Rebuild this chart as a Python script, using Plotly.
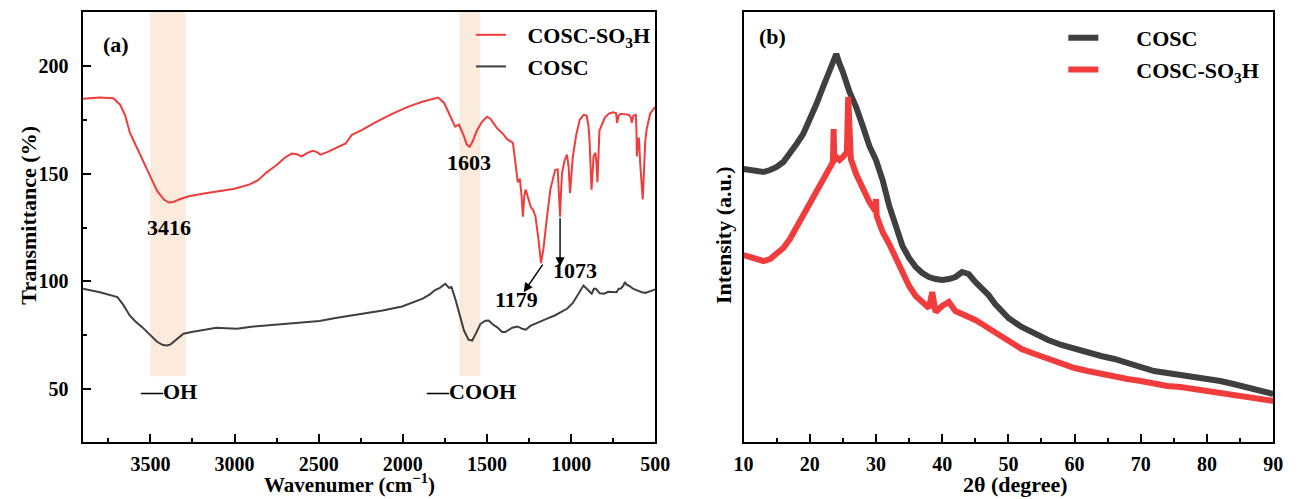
import plotly.graph_objects as go

# ---------------- data: FTIR (panel a) ----------------
ftir_red_x = [3900, 3800, 3720, 3680, 3650, 3622, 3580, 3540, 3500, 3460, 3420, 3390, 3365, 3330, 3278, 3200,
              3103, 3000, 2910, 2860, 2811, 2750, 2700, 2660, 2630, 2601, 2570, 2537, 2510, 2490, 2450, 2391,
              2340, 2303, 2250, 2169, 2070, 1971, 1880, 1790, 1755, 1720, 1690, 1667, 1640, 1620, 1603, 1585,
              1560, 1530, 1500, 1480, 1440, 1400, 1381, 1346, 1330, 1317, 1305, 1295, 1287, 1278, 1270, 1255,
              1241, 1225, 1212, 1195, 1179, 1165, 1150, 1142, 1124, 1108, 1095, 1080, 1073, 1066, 1060, 1054,
              1040, 1025, 1015, 1007, 998, 990, 970, 949, 925, 908, 897, 891, 879, 872, 867, 856, 850, 844,
              838, 832, 800, 774, 750, 733, 727, 718, 704, 680, 657, 645, 640, 630, 616, 612, 610, 605, 598,
              590, 580, 575, 568, 560, 552, 530, 500]
ftir_red_y = [184.7, 185.3, 185.0, 182.0, 177.0, 169.0, 162.0, 155.0, 148.6, 142.0, 138.0, 136.6, 136.8, 138.0,
              139.4, 140.6, 141.7, 143.0, 145.0, 147.0, 150.5, 154.0, 157.5, 159.3, 159.0, 158.0, 159.5, 160.6,
              160.0, 158.8, 160.0, 162.0, 164.0, 168.0, 170.0, 173.6, 177.5, 181.0, 183.5, 185.3, 182.8, 177.0,
              171.8, 172.7, 168.0, 163.5, 162.5, 165.0, 170.0, 174.0, 176.4, 175.5, 171.0, 168.0, 166.0, 164.3,
              155.0, 146.0, 147.7, 140.0, 130.0, 140.0, 142.6, 138.0, 134.7, 133.0, 130.0, 120.0, 108.5, 115.0,
              127.0, 131.0, 142.6, 147.0, 151.8, 152.0, 140.0, 130.0, 142.0, 150.5, 156.0, 158.8, 153.0, 141.0,
              150.0, 158.0, 168.0, 175.0, 177.3, 177.0, 172.0, 165.7, 142.6, 152.0, 158.0, 159.7, 155.0, 146.0,
              160.0, 170.0, 176.0, 178.0, 178.5, 178.0, 173.6, 177.0, 177.8, 177.5, 177.3, 176.0, 173.6, 177.0,
              177.3, 170.0, 158.0, 163.0, 166.7, 155.0, 142.0, 138.0, 150.0, 165.0, 170.4, 178.0, 181.0]

ftir_blk_x = [3900, 3800, 3696, 3660, 3623, 3590, 3549, 3500, 3460, 3426, 3400, 3380, 3340, 3304, 3255, 3180,
              3108, 3050, 2985, 2900, 2800, 2740, 2600, 2495, 2400, 2250, 2120, 2005, 1930, 1882, 1840, 1809,
              1780, 1748, 1725, 1711, 1686, 1660, 1637, 1610, 1588, 1565, 1539, 1510, 1490, 1465, 1441, 1410,
              1392, 1350, 1319, 1290, 1270, 1240, 1196, 1150, 1098, 1060, 1025, 990, 960, 927, 900, 878, 865,
              853, 830, 804, 780, 755, 730, 718, 706, 690, 681, 670, 657, 630, 608, 580, 559, 530, 510, 500]
ftir_blk_y = [96.6, 95.0, 92.7, 89.0, 84.2, 81.5, 78.8, 75.0, 72.0, 70.5, 70.3, 70.8, 73.5, 75.7, 76.5, 77.5,
              78.5, 78.3, 78.0, 79.0, 79.6, 80.0, 80.8, 81.6, 83.0, 84.7, 86.5, 88.4, 90.5, 92.0, 94.0, 96.0,
              97.0, 98.9, 97.0, 97.4, 91.2, 84.0, 77.2, 73.0, 72.6, 76.0, 80.3, 81.8, 81.9, 80.0, 78.8, 76.5,
              76.5, 78.5, 79.1, 78.0, 77.6, 79.5, 81.1, 82.5, 84.2, 86.0, 87.3, 90.0, 94.0, 98.1, 96.0, 94.3,
              96.6, 96.6, 94.5, 94.3, 95.2, 95.0, 95.0, 96.6, 96.6, 98.0, 99.7, 98.5, 98.0, 96.5, 95.8, 95.0,
              94.7, 95.5, 96.1, 96.3]

# ---------------- data: XRD (panel b), intensity in a.u. ----------------
xrd_blk_x = [10, 11, 12, 13, 14, 15, 16, 17, 18, 19, 20, 21, 22, 23, 23.5, 24, 24.5, 25, 26, 27, 28, 29, 30,
             30.5, 31, 32, 33, 34, 35, 36, 37, 38, 39, 40, 41, 42, 43, 44, 45, 46, 47, 48, 49, 50, 52, 54, 56,
             58, 60, 62, 64, 66, 68, 70, 72, 74, 76, 78, 80, 82, 84, 86, 88, 90]
xrd_blk_y = [273, 272, 270, 270, 272, 275, 280, 288, 298, 308, 322, 338, 355, 370, 380, 388, 378, 370, 350, 335,
             316, 296, 282, 273, 262, 236, 215, 196, 184, 175, 169, 165, 163, 162, 163, 165, 170, 168, 160, 154,
             147, 138, 130, 124, 115, 108, 102, 97, 93, 89, 86, 83, 79, 74, 71, 69, 67, 66, 64, 61, 58, 55, 52, 48]

xrd_red_x = [10, 11, 12, 13, 14, 15, 16, 17, 18, 19, 20, 21, 22, 23, 23.5, 23.6, 23.7, 24, 24.5, 25, 25.6, 25.8,
             26.0, 26.2, 27, 28, 29, 29.9, 30.0, 30.1, 31, 32, 33, 34, 35, 36, 37, 38, 38.5, 39, 40, 41, 42, 43,
             44, 45, 46, 47, 48, 50, 52, 54, 56, 58, 60, 62, 64, 66, 68, 70, 72, 74, 76, 78, 80, 82, 84, 86, 88, 90]
xrd_red_y = [187, 185, 183, 181, 183, 188, 194, 203, 215, 228, 241, 253, 265, 277, 280, 313, 281, 285, 282, 285,
             290, 345, 288, 283, 268, 254, 240, 231, 243, 226, 210, 198, 183, 170, 156, 146, 139, 134, 150, 130,
             136, 140, 131, 128, 126, 122, 118, 114, 110, 101, 93, 88, 83, 78, 74, 71, 68, 65, 63, 61, 58, 56,
             55, 53, 51, 49, 47, 45, 43, 41]

RED = "#F03C3C"
GRAY = "#3F3F3F"
FONT = "Liberation Serif"
NB = "\u00a0"

fig = go.Figure()
fig.add_trace(go.Scatter(x=ftir_red_x, y=ftir_red_y, mode="lines", name=NB * 3 + "<b>COSC-SO<sub>3</sub>H</b>",
                         line=dict(color=RED, width=2), xaxis="x", yaxis="y", legend="legend"))
fig.add_trace(go.Scatter(x=ftir_blk_x, y=ftir_blk_y, mode="lines", name=NB * 3 + "<b>COSC</b>",
                         line=dict(color=GRAY, width=2), xaxis="x", yaxis="y", legend="legend"))
fig.add_trace(go.Scatter(x=xrd_blk_x, y=xrd_blk_y, mode="lines", name=NB * 6 + "<b>COSC</b>",
                         line=dict(color=GRAY, width=6), xaxis="x2", yaxis="y2", legend="legend2"))
fig.add_trace(go.Scatter(x=xrd_red_x, y=xrd_red_y, mode="lines", name=NB * 6 + "<b>COSC-SO<sub>3</sub>H</b>",
                         line=dict(color=RED, width=6), xaxis="x2", yaxis="y2", legend="legend2"))

W, H = 1298, 499
ydom = [(H - 442) / H, (H - 12) / H]
tickfont = dict(family=FONT, size=20, color="black", weight="bold")
ann_font = dict(family=FONT, size=22, color="black", weight="bold")

axis_common = dict(showline=True, linecolor="black", linewidth=2, mirror=True, showgrid=False, zeroline=False,
                   ticks="inside", ticklen=8, tickwidth=2, tickcolor="black", tickfont=tickfont)
minor_common = dict(ticks="inside", ticklen=4, tickwidth=2, tickcolor="black")

fig.update_layout(
    width=W, height=H, margin=dict(l=0, r=0, t=0, b=0),
    paper_bgcolor="white", plot_bgcolor="white",
    xaxis=dict(domain=[74 / W, 658 / W], range=[3903, 500], anchor="y",
               tickvals=[3500, 3000, 2500, 2000, 1500, 1000, 500],
               minor=dict(dtick=250, tick0=500, **minor_common), ticklabelstandoff=3, **axis_common),
    yaxis=dict(domain=ydom, range=[25.5, 225], anchor="x", tickvals=[50, 100, 150, 200],
               minor=dict(dtick=25, tick0=0, **minor_common), ticklabelstandoff=8, **axis_common),
    xaxis2=dict(domain=[748 / W, 1288 / W], range=[10, 90], anchor="y2", dtick=10, tick0=10,
                minor=dict(dtick=5, **minor_common), ticklabelstandoff=3, **axis_common),
    yaxis2=dict(domain=ydom, range=[0, 430], anchor="x2", showline=True, linecolor="black", linewidth=2,
                mirror=True, showgrid=False, zeroline=False, showticklabels=False, ticks=""),
    legend=dict(x=470 / W, y=1 - 14 / H, xanchor="left", yanchor="top", bgcolor="rgba(0,0,0,0)",
                font=dict(family=FONT, size=22, color="black"), tracegroupgap=0, itemwidth=30),
    legend2=dict(x=1074 / W, y=1 - 17 / H, xanchor="left", yanchor="top", bgcolor="rgba(0,0,0,0)",
                 font=dict(family=FONT, size=22, color="black"), tracegroupgap=0, itemwidth=30),
    showlegend=True,
)

# axis titles
fig.add_annotation(text="<b>Wavenumer (cm<sup>\u22121</sup>)</b>", x=346 / W, y=0.5 / H, xref="paper",
                   yref="paper", showarrow=False, xanchor="center", yanchor="bottom",
                   font=dict(family=FONT, size=21, color="black", weight="bold"))
fig.add_annotation(text="<b>2\u03b8 (degree)</b>", x=1025 / W, y=0.5 / H, xref="paper", yref="paper",
                   showarrow=False, xanchor="center", yanchor="bottom", font=ann_font)
fig.add_annotation(text="<b>Transmittance (%)</b>", x=18 / W, y=1 - 215 / H, xref="paper", yref="paper",
                   showarrow=False, xanchor="center", yanchor="middle", textangle=-90, font=ann_font)
fig.add_annotation(text="<b>Intensity (a.u.)</b>", x=727 / W, y=1 - 235 / H, xref="paper", yref="paper",
                   showarrow=False, xanchor="center", yanchor="middle", textangle=-90, font=ann_font)

# shaded absorption bands
for x0, x1 in [(3500, 3290), (1665, 1540)]:
    fig.add_shape(type="rect", xref="x", yref="y", x0=x0, x1=x1, y0=56, y1=225,
                  fillcolor="rgba(248,222,196,0.6)", line=dict(width=0), layer="below")

texts = [("(a)", 3705, 209.7, "x", "y"), ("3416", 3391, 125, "x", "y"), ("1603", 1606, 155.1, "x", "y"),
         ("1179", 1322, 91.7, "x", "y"), ("1073", 979, 105.1, "x", "y"),
         ("\u2014OH", 3391, 49.1, "x", "y"), ("\u2014COOH", 1595, 49.1, "x", "y"),
         ("(b)", 14.4, 406, "x2", "y2")]
for t, x, y, xr, yr in texts:
    fig.add_annotation(text="<b>" + t + "</b>", x=x, y=y, xref=xr, yref=yr, showarrow=False, font=ann_font,
                       xanchor="center", yanchor="middle")

# arrows
fig.add_annotation(x=1282, y=95, ax=1163, ay=108.5, xref="x", yref="y", axref="x", ayref="y", text="",
                   showarrow=True, arrowhead=2, arrowsize=1.3, arrowwidth=1.4, arrowcolor="black")
fig.add_annotation(x=1066, y=107, ax=1066, ay=130, xref="x", yref="y", axref="x", ayref="y", text="",
                   showarrow=True, arrowhead=2, arrowsize=1.3, arrowwidth=1.4, arrowcolor="black")

fig.write_html("out.html")
